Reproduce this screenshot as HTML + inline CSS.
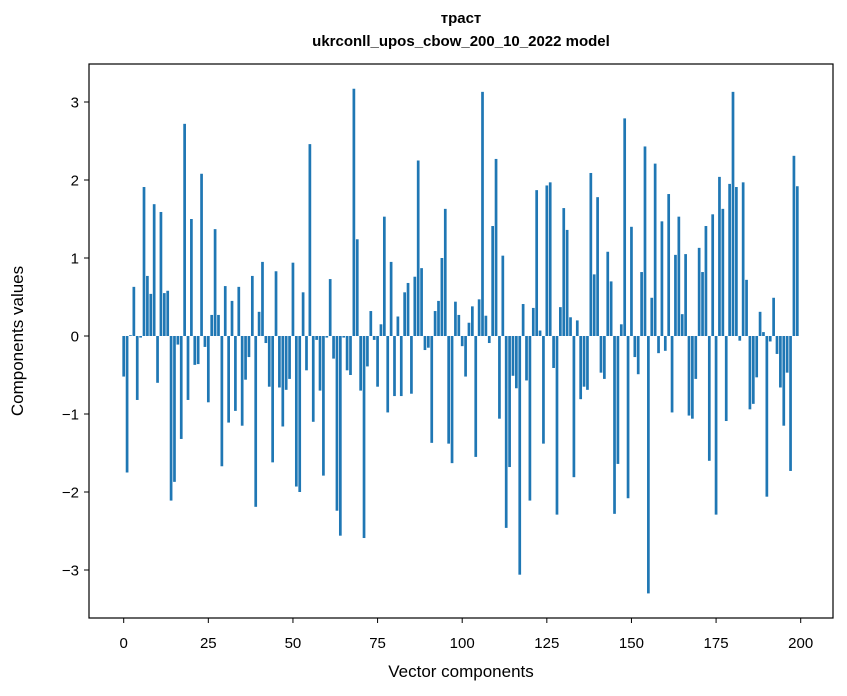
<!DOCTYPE html>
<html><head><meta charset="utf-8"><style>
html,body{margin:0;padding:0;background:#fff;}
svg{display:block;font-family:"Liberation Sans","DejaVu Sans",sans-serif;}
</style></head><body>
<svg id="chart" width="847" height="696" viewBox="0 0 847 696" xmlns="http://www.w3.org/2000/svg">
<rect width="847" height="696" fill="#fff"/>
<text x="461" y="23" text-anchor="middle" font-size="15" font-weight="bold">траст</text>
<text x="461" y="46" text-anchor="middle" font-size="15" font-weight="bold">ukrconll_upos_cbow_200_10_2022 model</text>
<g id="bars"></g>
<g id="axes"></g>
<rect x="89" y="64" width="744" height="554" fill="none" stroke="#000" stroke-width="1.2"/>
<text x="461" y="677" text-anchor="middle" font-size="17">Vector components</text>
<text transform="translate(23,341) rotate(-90)" text-anchor="middle" font-size="17">Components values</text>
</svg>
<script>
const values = [
-0.52,-1.75,0.01,0.63,-0.82,-0.02,1.91,0.77,0.54,1.69,
-0.60,1.59,0.55,0.58,-2.11,-1.87,-0.11,-1.32,2.72,-0.82,
1.50,-0.37,-0.36,2.08,-0.14,-0.85,0.27,1.37,0.27,-1.67,
0.64,-1.11,0.45,-0.96,0.63,-1.15,-0.56,-0.27,0.77,-2.19,
0.31,0.95,-0.09,-0.65,-1.62,0.83,-0.66,-1.16,-0.69,-0.55,
0.94,-1.93,-2.00,0.56,-0.44,2.46,-1.10,-0.05,-0.70,-1.79,
-0.02,0.73,-0.29,-2.24,-2.56,-0.02,-0.44,-0.50,3.17,1.24,
-0.70,-2.59,-0.39,0.32,-0.05,-0.65,0.15,1.53,-0.98,0.95,
-0.77,0.25,-0.77,0.56,0.68,-0.74,0.76,2.25,0.87,-0.18,
-0.15,-1.37,0.32,0.45,1.00,1.63,-1.38,-1.63,0.44,0.27,
-0.13,-0.52,0.17,0.38,-1.55,0.47,3.13,0.26,-0.09,1.41,
2.27,-1.06,1.03,-2.46,-1.68,-0.51,-0.67,-3.06,0.41,-0.57,
-2.11,0.36,1.87,0.07,-1.38,1.93,1.97,-0.41,-2.29,0.37,
1.64,1.36,0.24,-1.81,0.20,-0.81,-0.65,-0.69,2.09,0.79,
1.78,-0.47,-0.55,1.08,0.70,-2.28,-1.64,0.15,2.79,-2.08,
1.40,-0.27,-0.49,0.82,2.43,-3.30,0.49,2.21,-0.22,1.47,
-0.19,1.82,-0.98,1.04,1.53,0.28,1.05,-1.02,-1.06,-0.55,
1.13,0.82,1.41,-1.60,1.56,-2.29,2.04,1.63,-1.09,1.95,
3.13,1.91,-0.06,1.97,0.72,-0.94,-0.87,-0.53,0.31,0.05,
-2.06,-0.07,0.49,-0.23,-0.66,-1.15,-0.47,-1.73,2.31,1.92
];
const xTicks = [0,25,50,75,100,125,150,175,200];
const yTicks = [-3,-2,-1,0,1,2,3];

const NS = "http://www.w3.org/2000/svg";
function xScale(v){ return 123.7 + 3.385 * v; }
function yScale(v){ return 336 - 78 * v; }

const barsG = document.getElementById('bars');
values.forEach(function(v, i){
  const r = document.createElementNS(NS, 'rect');
  const w = 3.385 * 0.8;
  const y0 = yScale(0), y1 = yScale(v);
  r.setAttribute('x', xScale(i) - w/2);
  r.setAttribute('y', Math.min(y0, y1));
  r.setAttribute('width', w);
  r.setAttribute('height', Math.abs(y1 - y0));
  r.setAttribute('fill', '#1f77b4');
  
  
  barsG.appendChild(r);
});

const axesG = document.getElementById('axes');
xTicks.forEach(function(t){
  const x = xScale(t);
  const l = document.createElementNS(NS, 'line');
  l.setAttribute('x1', x); l.setAttribute('x2', x);
  l.setAttribute('y1', 618); l.setAttribute('y2', 623);
  l.setAttribute('stroke', '#000'); l.setAttribute('stroke-width', '1');
  
  
  axesG.appendChild(l);
  const tx = document.createElementNS(NS, 'text');
  tx.setAttribute('x', x); tx.setAttribute('y', 648);
  tx.setAttribute('text-anchor', 'middle'); tx.setAttribute('font-size', '15');
  tx.textContent = String(t);
  
  
  axesG.appendChild(tx);
});
yTicks.forEach(function(t){
  const y = yScale(t);
  const l = document.createElementNS(NS, 'line');
  l.setAttribute('x1', 84); l.setAttribute('x2', 89);
  l.setAttribute('y1', y); l.setAttribute('y2', y);
  l.setAttribute('stroke', '#000'); l.setAttribute('stroke-width', '1');
  
  
  axesG.appendChild(l);
  const tx = document.createElementNS(NS, 'text');
  tx.setAttribute('x', 79); tx.setAttribute('y', y + 5.5);
  tx.setAttribute('text-anchor', 'end'); tx.setAttribute('font-size', '15');
  tx.textContent = t < 0 ? '\u2212' + Math.abs(t) : String(t);
  
  
  axesG.appendChild(tx);
});
</script>
</body></html>
